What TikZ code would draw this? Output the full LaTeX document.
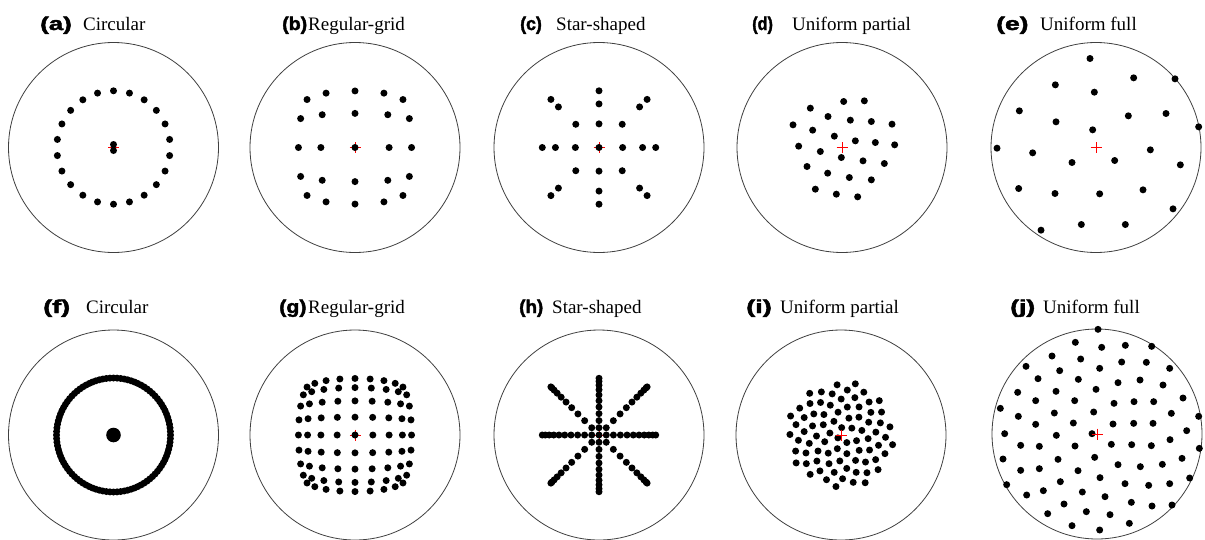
\documentclass[tikz,border=0pt]{standalone}
\usepackage{graphicx}
\usepackage{fontspec}
\setmainfont{Liberation Serif}
\newfontfamily\labfont{Liberation Sans}[BoldFeatures={FakeBold=2}]
\newcommand{\plab}[2]{\scalebox{#1}[1]{\labfont\bfseries\fontsize{18.5}{20}\selectfont #2}}
\newcommand{\pttl}[1]{{\fontsize{19}{22}\selectfont #1}}
\begin{document}
\begin{tikzpicture}[x=1pt,y=-1pt,
  dish/.style={draw=black!75, line width=0.8pt},
  crossmark/.style={draw=red, line width=0.7pt},
  lbl/.style={anchor=base west, inner sep=0pt}]
\useasboundingbox (0,0) rectangle (1205,539);
\fill[white] (0,0) rectangle (1205,539);
\def\dr{3.5}

% ---------- labels ----------
\node[lbl] (la) at (40,30) {\plab{1.40}{(a)}};   \node[lbl] (ta) at (83,30) {\pttl{Circular}};
\node[lbl] (lb) at (282,30) {\plab{1.06}{(b)}};  \node[lbl] (tb) at (308,30) {\pttl{Regular-grid}};
\node[lbl] (lc) at (520,30) {\plab{0.96}{(c)}};  \node[lbl] (tc) at (556,30) {\pttl{Star-shaped}};
\node[lbl] (ld) at (752,30) {\plab{0.88}{(d)}};  \node[lbl] (td) at (792,30) {\pttl{Uniform partial}};
\node[lbl] (le) at (996,30) {\plab{1.43}{(e)}};  \node[lbl] (te) at (1040,30) {\pttl{Uniform full}};
\node[lbl] (lf) at (43,313) {\plab{1.46}{(f)}};  \node[lbl] (tf) at (86,313) {\pttl{Circular}};
\node[lbl] (lg) at (279,313) {\plab{1.16}{(g)}}; \node[lbl] (tg) at (308,313) {\pttl{Regular-grid}};
\node[lbl] (lh) at (519,313) {\plab{1.02}{(h)}}; \node[lbl] (th) at (552,313) {\pttl{Star-shaped}};
\node[lbl] (li) at (746,313) {\plab{1.47}{(i)}}; \node[lbl] (ti) at (780,313) {\pttl{Uniform partial}};
\node[lbl] (lj) at (1010,313) {\plab{1.43}{(j)}};\node[lbl] (tj) at (1043,313) {\pttl{Uniform full}};

% ---------- (a) circular ----------
\begin{scope}[shift={(113.5,147.5)}]
  \draw[dish] (0,0) circle (105);
  \draw[crossmark] (-5.5,0) -- (5.5,0) (0,-5.5) -- (0,5.5);
  \foreach \k in {0,...,21} \fill ({90+\k*360/22}:56.7) circle (\dr);
  \fill (0,-3) circle (\dr) (0,3) circle (\dr);
\end{scope}

% ---------- (b) regular grid ----------
\begin{scope}[shift={(355,147.5)}]
  \draw[dish] (0,0) circle (105);
  \draw[crossmark] (-5.5,0) -- (5.5,0) (0,-5.5) -- (0,5.5);
  \foreach \u in {-4,-2,0,2,4} \foreach \v in {-4,-2,0,2,4}
    \fill ({61*sin(17*\u)*cos(8*\v)},{61*sin(17*\v)*cos(8*\u)}) circle (\dr);
\end{scope}

% ---------- (c) star ----------
\begin{scope}[shift={(599,147.5)}]
  \draw[dish] (0,0) circle (105);
  \draw[crossmark] (-5.5,0) -- (5.5,0) (0,-5.5) -- (0,5.5);
  \fill (0,0) circle (\dr);
  \foreach \k in {1,2,3} {
    \foreach \a in {0,90,180,270} \fill (\a:{61*sin(22.8*\k)}) circle (\dr);
    \foreach \sx/\sy in {1/1,1/-1,-1/1,-1/-1}
      \fill ({\sx*61*sin(22.8*\k)*cos(10.67*\k)},{\sy*61*sin(22.8*\k)*cos(10.67*\k)}) circle (\dr);
  }
\end{scope}

% ---------- (d) uniform partial ----------
\begin{scope}[shift={(842,147.5)}]
  \draw[dish] (0,0) circle (105);
  \foreach \x/\y in {370/302,432/300,270/322,323/347,390/358,453/362,515/370,
    218/372,277/388,342/406,405/420,465/425,523/432,235/436,300/452,363/470,
    428/480,492/488,260/497,322/517,387/530,453/537,285/565,348/580,412/588}
    \fill ({(\x-365)/3},{(\y-440)/3}) circle (\dr);
  \draw[crossmark] (-5.5,0) -- (5.5,0) (0,-5.5) -- (0,5.5);
\end{scope}

% ---------- (e) uniform full ----------
\begin{scope}[shift={(1096,147.5)}]
  \draw[dish] (0,0) circle (105);
  \foreach \x/\y in {387/173,518/231,642/234,283/252,400/274,175/330,502/345,
    615/338,285/363,713/378,395/387,108/442,215/456,568/447,333/485,461/479,
    658/492,173/563,282/578,416/579,546/567,636/624,361/671,493/671,240/688}
    \fill ({(\x-405)/3},{(\y-440)/3}) circle (\dr);
  \draw[crossmark] (-5.5,0) -- (5.5,0) (0,-5.5) -- (0,5.5);
\end{scope}

% ---------- (f) circular dense ----------
\begin{scope}[shift={(113.5,435)}]
  \draw[dish] (0,0) circle (105);
  \foreach \k in {0,...,99} \fill (\k*3.6:57) circle (\dr);
  \fill (0,0) circle (7.3);
\end{scope}

% ---------- (g) regular grid dense ----------
\begin{scope}[shift={(355,435)}]
  \draw[dish] (0,0) circle (105);
  \draw[crossmark] (-5.5,0) -- (5.5,0) (0,-5.5) -- (0,5.5);
  \foreach \u in {-4,...,4} \foreach \v in {-4,...,4}
    \fill ({61*sin(17*\u)*cos(8*\v)},{61*sin(17*\v)*cos(8*\u)}) circle (\dr);
\end{scope}

% ---------- (h) star dense ----------
\begin{scope}[shift={(599,435)}]
  \draw[dish] (0,0) circle (105);
  \draw[crossmark] (-5.5,0) -- (5.5,0) (0,-5.5) -- (0,5.5);
  \fill (0,0) circle (\dr);
  \foreach \k in {1,...,10} {
    \foreach \a in {0,90,180,270} \fill (\a:{61*sin(6.84*\k)}) circle (\dr);
    \foreach \sx/\sy in {1/1,1/-1,-1/1,-1/-1}
      \fill ({\sx*61*sin(6.84*\k)*cos(3.2*\k)},{\sy*61*sin(6.84*\k)*cos(3.2*\k)}) circle (\dr);
  }
\end{scope}

% ---------- (i) uniform partial dense ----------
\begin{scope}[shift={(841,435)}]
  \draw[dish] (0,0) circle (105);
  \foreach \k in {1,...,80} \fill ({\k*137.508}:{6.04*sqrt(\k-0.5)}) circle (\dr);
  \draw[crossmark] (-5.5,0) -- (5.5,0) (0,-5.5) -- (0,5.5);
\end{scope}

% ---------- (j) uniform full dense ----------
\begin{scope}[shift={(1097,434)}]
  \draw[dish] (0,0) circle (105);
  \foreach \x/\y in {413/148,345/187,424/202,495/196,574/199,275/228,361/237,
    484/246,558/247,197/259,298/272,418/265,628/265,233/296,354/298,473/308,
    539/300,608/315,172/337,287/334,407/328,668/354,120/385,226/362,343/362,
    461/370,521/365,580/365,174/409,282/399,400/396,633/400,715/409,226/433,
    339/429,458/432,520/430,578/430,133/461,288/466,395/461,679/452,181/496,
    237/499,344/498,453/493,514/494,573/497,629/479,717/505,128/537,293/538,
    403/532,473/554,540/560,606/553,665/535,181/571,237/566,353/572,139/614,
    300/605,419/593,494/611,565/616,628/611,688/594,199/645,249/632,366/636,
    434/650,311/672,513/667,575/678,635/675,262/701,378/695,449/704,335/737,
    418/750,507/730}
    \fill ({(\x-410)/3},{(\y-462)/3}) circle (\dr);
  \draw[crossmark] (-5.5,0) -- (5.5,0) (0,-5.5) -- (0,5.5);
\end{scope}
\end{tikzpicture}
\end{document}
